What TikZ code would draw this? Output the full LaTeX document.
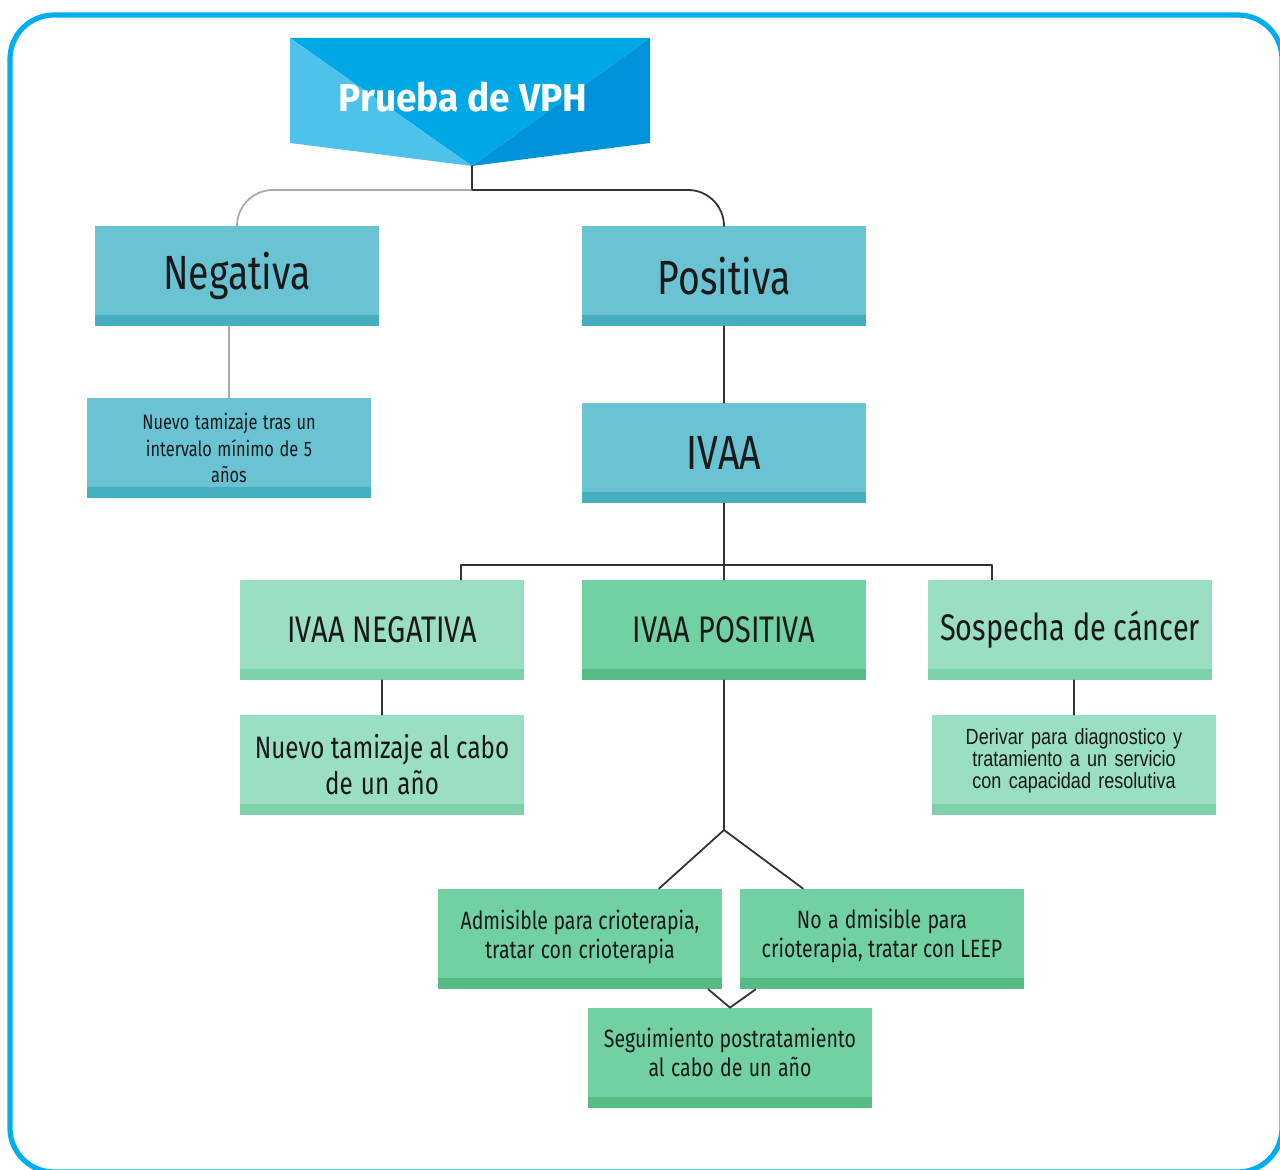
\documentclass[tikz,border=0pt]{standalone}
\usepackage{fontspec}
\setmainfont[FakeStretch=0.78]{Fira Sans}
\newfontfamily\titlefont[FakeStretch=0.95]{Fira Sans}
\newfontfamily\narrowfont[FakeStretch=0.82]{Liberation Sans}
\definecolor{frame}{HTML}{00AEEF}
\definecolor{vphlight}{HTML}{4DC3EC}
\definecolor{vphmid}{HTML}{00A9E5}
\definecolor{vphdark}{HTML}{0093DA}
\definecolor{teal}{HTML}{6AC3D3}
\definecolor{tealband}{HTML}{45AFC0}
\definecolor{mint}{HTML}{9ADFC1}
\definecolor{mintband}{HTML}{7FD1A9}
\definecolor{leaf}{HTML}{71D1A3}
\definecolor{leafband}{HTML}{57BB86}
\definecolor{darkline}{HTML}{333333}
\definecolor{greyline}{HTML}{A9ABAE}
\begin{document}
\begin{tikzpicture}[x=0.5pt,y=-0.5pt, line join=round, line cap=round,
  box/.style={rectangle, minimum width=142pt, minimum height=50pt, inner sep=0pt,
    text width=138pt, align=center, text=black!90},
  tight/.style={execute at begin node={\spaceskip=0.2em plus 0.05em\relax}},
  band/.style={path picture={\fill[#1] ([yshift=5.5pt]path picture bounding box.south west) rectangle (path picture bounding box.south east);}},
  tealbox/.style={box, fill=teal, band=tealband},
  mintbox/.style={box, fill=mint, band=mintband},
  leafbox/.style={box, fill=leaf, band=leafband},
  big/.style={font=\fontsize{24}{28}\selectfont},
  mid/.style={font=\fontsize{18.5}{20}\selectfont, tight},
  small/.style={font=\fontsize{12.5}{14.5}\selectfont, tight},
  link/.style={darkline, line width=0.9pt}]
\clip (0,0) rectangle (1280,1170);
\draw[frame, line width=2.6pt, rounded corners=22pt] (10,15) rectangle (1282,1172);

% banner
\fill[vphmid] (290,38) -- (650,38) -- (472,166) -- cycle;
\fill[vphlight] (290,38) -- (472,166) -- (290,143) -- cycle;
\fill[vphdark] (650,38) -- (650,143) -- (472,166) -- cycle;
\node[text=white, font=\titlefont\bfseries\fontsize{19.5}{24}\selectfont] (title) at (463,97) {Prueba de VPH};
\coordinate (tip) at (472,166);
\coordinate (hub) at (472,190);

\node[tealbox, big] (neg) at (237,276) {Negativa};
\node[tealbox, big] (pos) at (724,276) {Positiva};
\node[tealbox, tight, font=\fontsize{10.5}{13.2}\selectfont] (negnote) at (229,448) {Nuevo tamizaje tras un\\ intervalo mínimo de 5\\ años};
\node[tealbox, big] (ivaa) at (724,453) {IVAA};

\node[mintbox, mid] (ivaaneg) at (382,630) {IVAA NEGATIVA};
\node[leafbox, mid] (ivaapos) at (724,630) {IVAA POSITIVA};
\node[mintbox, mid] (sosp) at (1070,630) {Sospecha de cáncer};
\node[mintbox, tight, font=\fontsize{15.5}{18}\selectfont] (negyear) at (382,765) {Nuevo tamizaje al cabo\\ de un año};
\node[mintbox, font=\narrowfont\fontsize{11}{11}\selectfont] (deriv) at (1074,765) {Derivar para diagnostico y\\ tratamiento a un servicio\\ con capacidad resolutiva\vspace{4pt}};

\node[leafbox, small] (adm) at (580,939) {Admisible para crioterapia,\\ tratar con crioterapia\vspace{2pt}};
\node[leafbox, small] (noadm) at (882,939) {No a dmisible para\\ crioterapia, tratar con LEEP\vspace{3pt}};
\node[leafbox, small] (seg) at (730,1058) {Seguimiento postratamiento\\ al cabo de un año\vspace{6pt}};

% connectors
\draw[link] (tip) -- (hub);
\draw[greyline, line width=0.9pt, rounded corners=18pt] (hub) -| (neg.north);
\draw[link, rounded corners=18pt] (hub) -| (pos.north);
\draw[greyline, line width=0.9pt] (neg.south -| negnote) -- (negnote.north);
\draw[link] (pos.south) -- (ivaa.north);
\coordinate (split) at (724,565);
\draw[link] (ivaa.south) -- (ivaapos.north);
\draw[link] ([xshift=39.5pt]ivaaneg.north) |- (split) -| ([xshift=-39pt]sosp.north);
\draw[link] (ivaaneg.south) -- (negyear.north);
\draw[link] (sosp.south -| deriv) -- (deriv.north);
\coordinate (fork) at (724,830);
\draw[link] (ivaapos.south) -- (fork);
\draw[link] (fork) -- ([xshift=39.5pt]adm.north);
\draw[link] (fork) -- ([xshift=-39.5pt]noadm.north);
\draw[link] ([xshift=-7pt]adm.south east) -- (seg.north) -- ([xshift=8pt]noadm.south west);
\end{tikzpicture}
\end{document}
